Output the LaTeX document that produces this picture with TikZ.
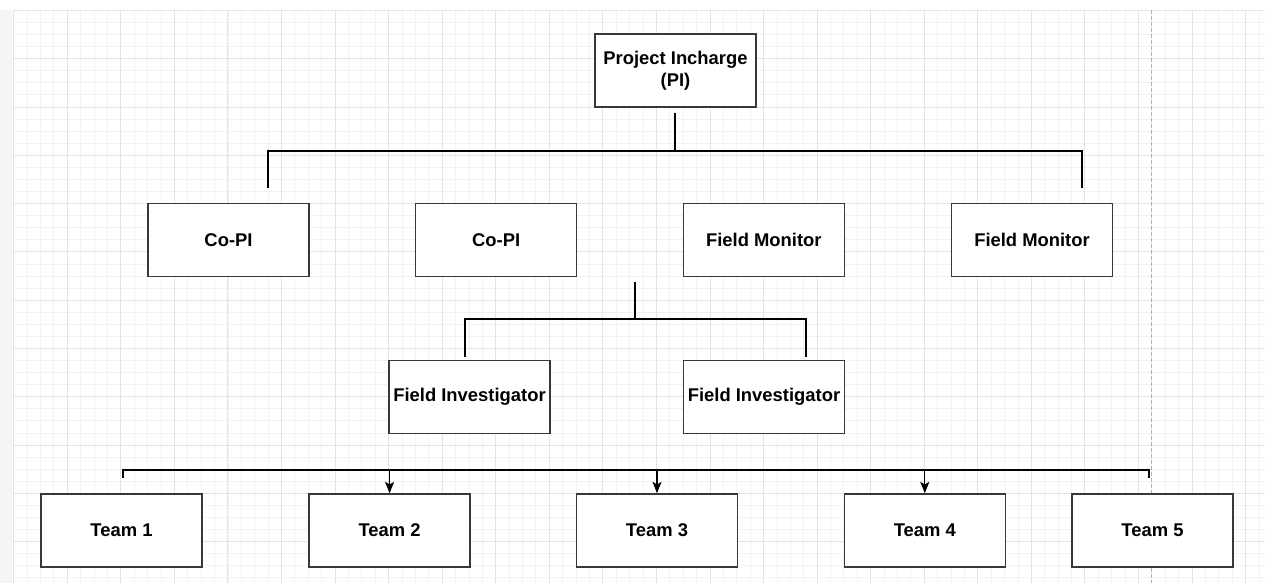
\documentclass[tikz,border=0pt]{standalone}
\usepackage{fontspec}
\setmainfont{Liberation Sans}
\usetikzlibrary{arrows.meta}
\begin{document}
\begin{tikzpicture}[x=0.75pt,y=-0.75pt,
  minorgrid/.style={draw=black!5, line width=0.7pt},
  majorgrid/.style={draw=black!11, line width=0.75pt},
  orgbox/.style={draw=black!78, line width=1.1pt, fill=white, minimum width=120.75pt, minimum height=54.75pt, inner sep=0pt, align=center, font=\fontsize{13.8}{16}\selectfont\bfseries},
  wire/.style={draw=black, line width=1.5pt},
  arrowwire/.style={draw=black, line width=1pt, -{Stealth[length=8.5pt,width=6.8pt,inset=2pt]}}
]
\useasboundingbox (0,0) rectangle (1265,583);
\fill[white] (0,0) rectangle (1265,583);
% left strip
\fill[black!4] (0,10) rectangle (12,583);
% grid
\foreach \k in {0,...,93} {
  \pgfmathsetmacro\xx{67.3+13.39*(\k-4)}
  \draw[minorgrid] (\xx,10) -- (\xx,583);
}
\foreach \j in {0,...,47} {
  \pgfmathsetmacro\yy{10.4+12.075*\j}
  \draw[minorgrid] (13,\yy) -- (1265,\yy);
}
\foreach \k in {0,4,...,92} {
  \pgfmathsetmacro\xx{67.3+13.39*(\k-4)}
  \draw[majorgrid] (\xx,10) -- (\xx,583);
}
\foreach \j in {0,4,...,44} {
  \pgfmathsetmacro\yy{10.4+12.075*\j}
  \draw[majorgrid] (13,\yy) -- (1265,\yy);
}
% page break
\draw[black!30, line width=0.8pt, dash pattern=on 3pt off 1.5pt] (1151.7,10) -- (1151.7,583);

% nodes
\node[orgbox] (pi) at (675.5,70.7) {Project Incharge\\(PI)};
\node[orgbox] (copi1) at (228.5,239.8) {Co-PI};
\node[orgbox] (copi2) at (496.2,239.8) {Co-PI};
\node[orgbox] (fm1) at (763.8,239.8) {Field Monitor};
\node[orgbox] (fm2) at (1032,239.8) {Field Monitor};
\node[orgbox] (fi1) at (469.5,397.2) {Field Investigator};
\node[orgbox] (fi2) at (764,397.2) {Field Investigator};
\node[orgbox] (t1) at (121.5,530.4) {Team 1};
\node[orgbox] (t2) at (389.6,530.4) {Team 2};
\node[orgbox] (t3) at (657,530.4) {Team 3};
\node[orgbox] (t4) at (924.8,530.4) {Team 4};
\node[orgbox] (t5) at (1152.5,530.4) {Team 5};

% connector coordinates
\coordinate (a1) at (674.7,112.7);
\coordinate (a2) at (674.7,150.5);
\coordinate (a3) at (268,187.7);
\coordinate (a4) at (1081.5,187.7);
\coordinate (b1) at (635.3,281.7);
\coordinate (b2) at (635.3,319);
\coordinate (b3) at (465.3,356.7);
\coordinate (b4) at (805.7,356.7);
\coordinate (c1) at (123.3,478);
\coordinate (c2) at (1149.3,478);
\coordinate (c3) at (389.6,469.8);
\coordinate (c4) at (657,469.8);
\coordinate (c5) at (924.8,469.8);

\draw[wire] (a1) -- (a2);
\draw[wire] (a3) |- (a2) -| (a4);
\draw[wire] (b1) -- (b2);
\draw[wire] (b3) |- (b2) -| (b4);
\draw[wire] (c1) |- (c3) -- (c4) -- (c5) -| (c2);
\draw[arrowwire] (c3) -- (t2.north);
\draw[arrowwire] (c4) -- (t3.north);
\draw[arrowwire] (c5) -- (t4.north);
\end{tikzpicture}
\end{document}
